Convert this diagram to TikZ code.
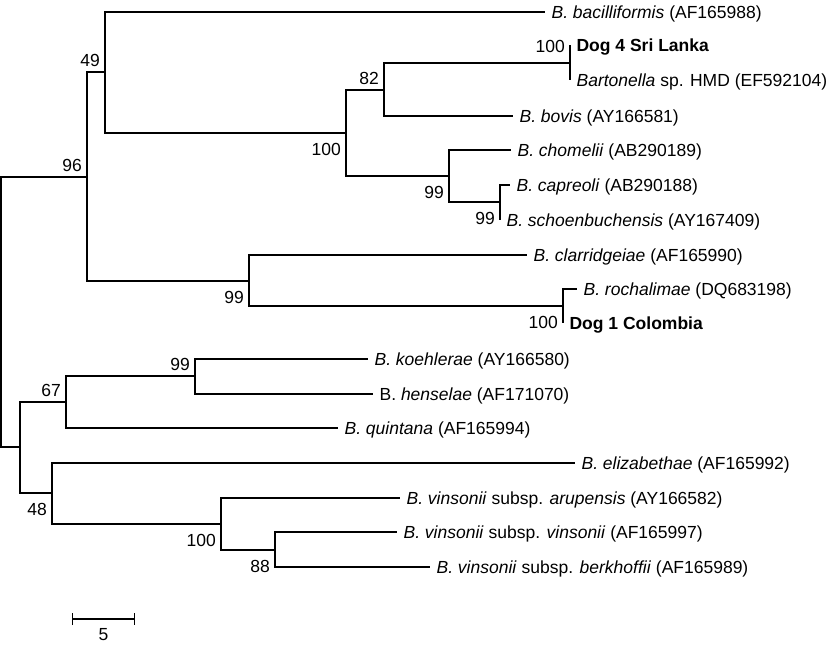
\documentclass[tikz,border=0pt]{standalone}
\usepackage{fontspec}
\setmainfont{Liberation Sans}
\usetikzlibrary{arrows.meta,calc}

\begin{document}
\begin{tikzpicture}[x=1pt, y=-1pt, line width=1.2pt,
        taxon/.style={anchor=base west, inner sep=0pt, xshift=6pt, yshift=-6.2pt, font=\fontsize{17.5}{20}\selectfont},
        boot/.style={inner sep=0pt, font=\fontsize{17.5}{20}\selectfont},
        bootup/.style={boot, anchor=south east, xshift=-4.5pt, yshift=5pt},
        bootdown/.style={boot, anchor=north east, xshift=-4.5pt, yshift=-10pt}]

        \useasboundingbox (0,0) rectangle (832,647);

        % internal nodes
        \coordinate (root) at (1,312);
        \coordinate (n96) at (87,177);
        \coordinate (n49) at (105,72);
        \coordinate (n100a) at (346,133);
        \coordinate (n82) at (384,90);
        \coordinate (n100d) at (570,63);
        \coordinate (n99ch) at (449,176);
        \coordinate (n99cap) at (500,202);
        \coordinate (n99c) at (249,281);
        \coordinate (n100col) at (563,306);
        \coordinate (n20) at (20,447);
        \coordinate (n67) at (66,402);
        \coordinate (n99k) at (195,376);
        \coordinate (n48) at (52,493);
        \coordinate (n100v) at (221,524);
        \coordinate (n88) at (275,550);

        % tips
        \coordinate (tBac) at (545,12);
        \coordinate (tDog4) at (570,45);
        \coordinate (tHMD) at (570,80);
        \coordinate (tBov) at (513,116);
        \coordinate (tCho) at (511,150);
        \coordinate (tCap) at (510,185);
        \coordinate (tSch) at (500,220);
        \coordinate (tCla) at (527,255);
        \coordinate (tRoc) at (577,289);
        \coordinate (tDog1) at (563,323);
        \coordinate (tKoe) at (368,359);
        \coordinate (tHen) at (373,394);
        \coordinate (tQui) at (338,428);
        \coordinate (tEli) at (575,463);
        \coordinate (tAru) at (400,498);
        \coordinate (tVin) at (397,532);
        \coordinate (tBer) at (430,567);

        % branches
        \draw (root) |- (n96); \draw (root) |- (n20);
        \draw (n96) |- (n49); \draw (n96) |- (n99c);
        \draw (n49) |- (tBac); \draw (n49) |- (n100a);
        \draw (n100a) |- (n82); \draw (n100a) |- (n99ch);
        \draw (n82) |- (n100d); \draw (n82) |- (tBov);
        \draw (n100d) |- (tDog4); \draw (n100d) |- (tHMD);
        \draw (n99ch) |- (tCho); \draw (n99ch) |- (n99cap);
        \draw (n99cap) |- (tCap); \draw (n99cap) |- (tSch);
        \draw (n99c) |- (tCla); \draw (n99c) |- (n100col);
        \draw (n100col) |- (tRoc); \draw (n100col) |- (tDog1);
        \draw (n20) |- (n67); \draw (n20) |- (n48);
        \draw (n67) |- (n99k); \draw (n67) |- (tQui);
        \draw (n99k) |- (tKoe); \draw (n99k) |- (tHen);
        \draw (n48) |- (tEli); \draw (n48) |- (n100v);
        \draw (n100v) |- (tAru); \draw (n100v) |- (n88);
        \draw (n88) |- (tVin); \draw (n88) |- (tBer);

        % taxon labels
        \node[taxon] (lBac) at (tBac) {\textit{B. bacilliformis} (AF165988)};
        \node[taxon] (lDog4) at (tDog4) {\textbf{Dog 4 Sri Lanka}};
        \node[taxon] (lHMD) at (tHMD) {\textit{Bartonella} sp. HMD (EF592104)};
        \node[taxon] (lBov) at (tBov) {\textit{B. bovis} (AY166581)};
        \node[taxon] (lCho) at (tCho) {\textit{B. chomelii} (AB290189)};
        \node[taxon] (lCap) at (tCap) {\textit{B. capreoli} (AB290188)};
        \node[taxon] (lSch) at (tSch) {\textit{B. schoenbuchensis} (AY167409)};
        \node[taxon] (lCla) at (tCla) {\textit{B. clarridgeiae} (AF165990)};
        \node[taxon] (lRoc) at (tRoc) {\textit{B. rochalimae} (DQ683198)};
        \node[taxon] (lDog1) at (tDog1) {\textbf{Dog 1 Colombia}};
        \node[taxon] (lKoe) at (tKoe) {\textit{B. koehlerae} (AY166580)};
        \node[taxon] (lHen) at (tHen) {B. \textit{henselae} (AF171070)};
        \node[taxon] (lQui) at (tQui) {\textit{B. quintana} (AF165994)};
        \node[taxon] (lEli) at (tEli) {\textit{B. elizabethae} (AF165992)};
        \node[taxon] (lAru) at (tAru) {\textit{B. vinsonii} subsp. \textit{arupensis} (AY166582)};
        \node[taxon] (lVin) at (tVin) {\textit{B. vinsonii} subsp. \textit{vinsonii} (AF165997)};
        \node[taxon] (lBer) at (tBer) {\textit{B. vinsonii} subsp. \textit{berkhoffii} (AF165989)};

        % bootstrap values
        \node[bootup] (b96) at (n96) {96};
        \node[bootup] (b49) at (n49) {49};
        \node[bootup] (b82) at (n82) {82};
        \node[bootup, yshift=5pt] (b100d) at (n100d) {100};
        \node[bootdown] (b100a) at (n100a) {100};
        \node[bootdown] (b99ch) at (n99ch) {99};
        \node[bootdown] (b99cap) at (n99cap) {99};
        \node[bootdown] (b99c) at (n99c) {99};
        \node[bootdown] (b100col) at (n100col) {100};
        \node[bootup] (b67) at (n67) {67};
        \node[bootup] (b99k) at (n99k) {99};
        \node[bootdown] (b48) at (n48) {48};
        \node[bootdown] (b100v) at (n100v) {100};
        \node[bootdown] (b88) at (n88) {88};

        % scale bar
        \coordinate (sbL) at (72,619);
        \coordinate (sbR) at (135,619);
        \draw[{Bar[width=12pt]}-{Bar[width=12pt]}] (sbL) -- (sbR);
        \node[boot, anchor=north, yshift=-9pt] (sbLabel) at ($(sbL)!0.5!(sbR)$) {5};
    \end{tikzpicture}
\end{document}
